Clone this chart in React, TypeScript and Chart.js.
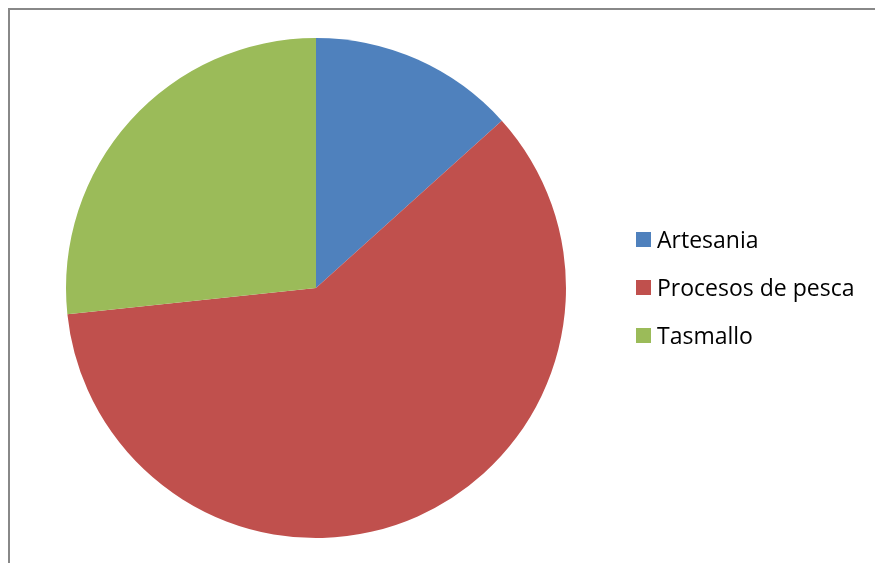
import React, { useEffect, useRef } from "react";
import { Chart, registerables } from "chart.js";

Chart.register(...registerables);

const categories = ["Artesania", "Procesos de pesca", "Tasmallo"];
const values = [2, 9, 4];
const colors = ["#4F81BD", "#C0504D", "#9BBB59"];

const legendPlugin = {
  id: "customLegend",
  afterDraw(chart: any) {
    const ctx = chart.ctx;
    const labels = chart.data.labels as string[];
    const bg = chart.data.datasets[0].backgroundColor as string[];
    ctx.save();
    ctx.font = '23px "Open Sans", sans-serif';
    ctx.textBaseline = "alphabetic";
    labels.forEach((lab, i) => {
      const base = 238 + i * 48;
      ctx.fillStyle = bg[i];
      ctx.fillRect(626, base - 16, 15, 15);
      ctx.fillStyle = "#000";
      ctx.fillText(lab, 647, base);
    });
    ctx.restore();
  },
};

export default function App() {
  const ref = useRef<HTMLCanvasElement>(null);
  useEffect(() => {
    if (!ref.current) return;
    const chart = new Chart(ref.current, {
      type: "pie",
      data: {
        labels: categories,
        datasets: [
          {
            data: values,
            backgroundColor: colors,
            borderWidth: 0,
          },
        ],
      },
      options: {
        responsive: false,
        animation: false,
        layout: { padding: { left: 56, right: 309, top: 28, bottom: 25 } },
        plugins: {
          legend: { display: false },
          tooltip: { enabled: false },
        },
      },
      plugins: [legendPlugin],
    });
    return () => chart.destroy();
  }, []);
  return (
    <div
      style={{
        position: "fixed",
        left: 8,
        top: 8,
        width: 900,
        height: 600,
        borderTop: "2px solid #888",
        borderLeft: "2px solid #888",
        background: "#fff",
      }}
    >
      <canvas ref={ref} width={865} height={553} style={{ display: "block" }} />
    </div>
  );
}
